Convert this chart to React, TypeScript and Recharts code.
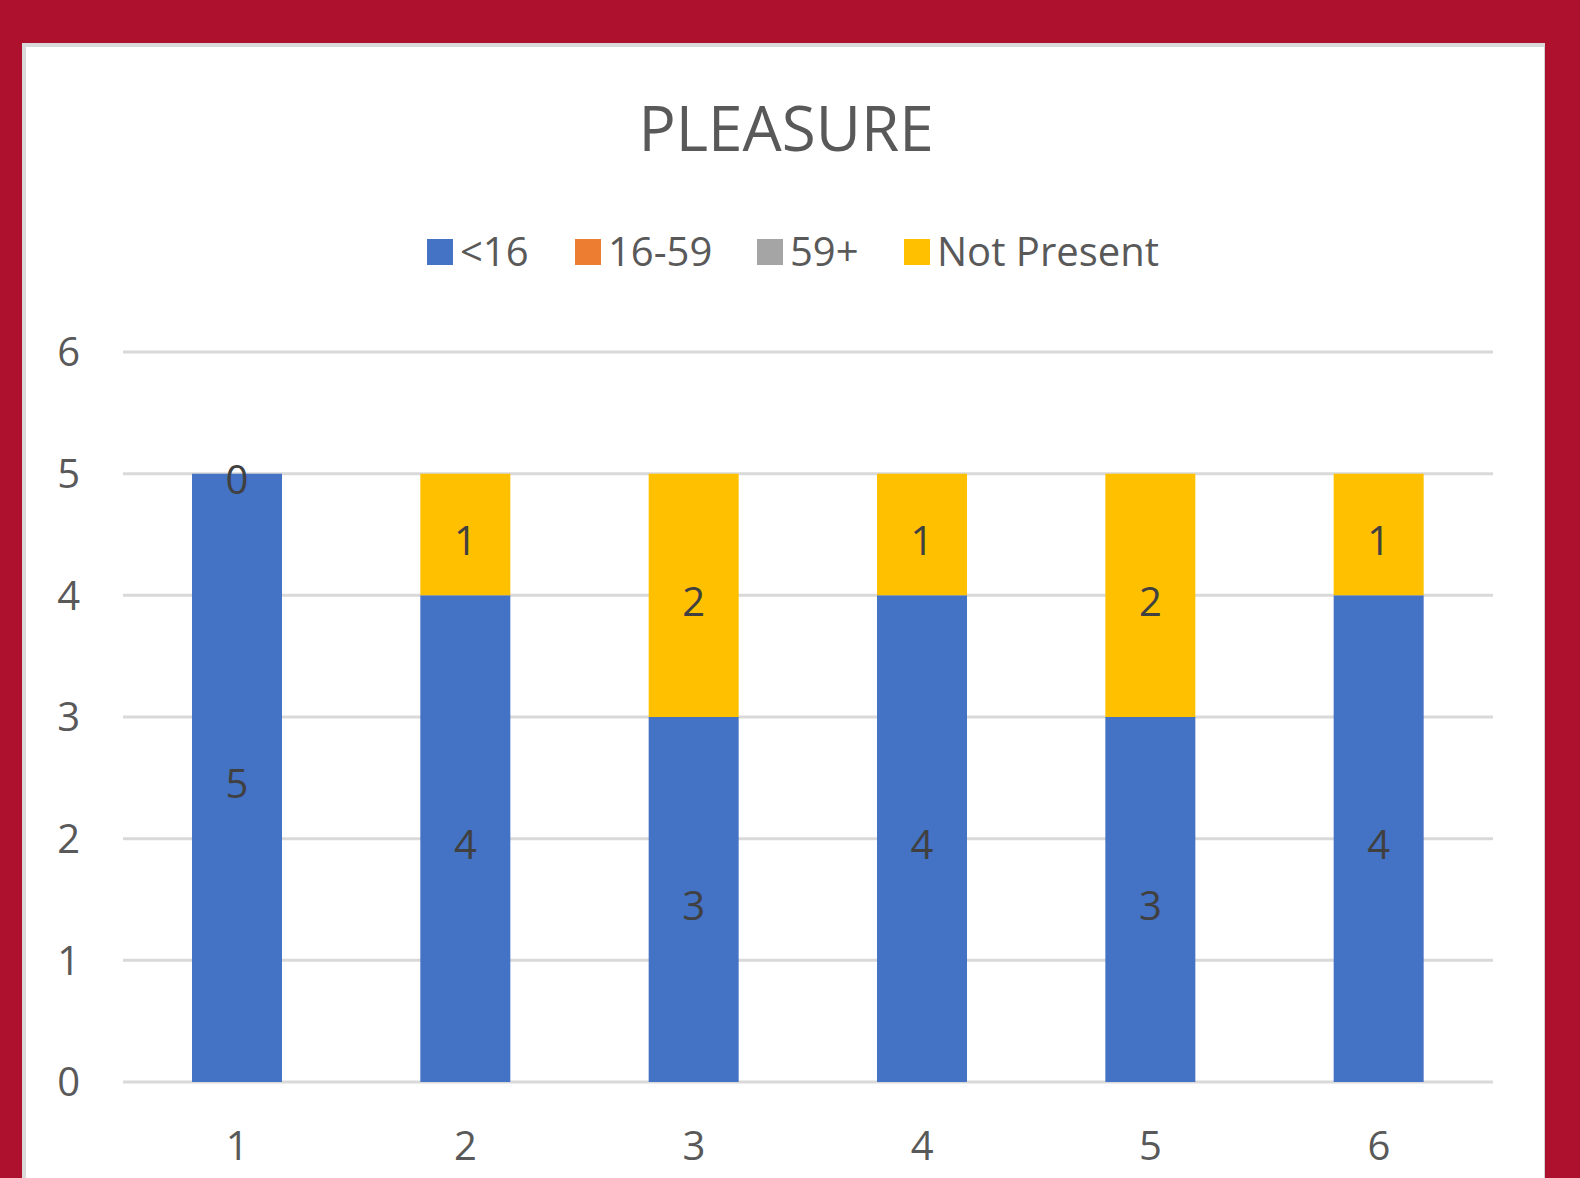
import React from "react";
import { BarChart, Bar, XAxis, YAxis, CartesianGrid, LabelList } from "recharts";

const categories = ["1", "2", "3", "4", "5", "6"];
const under16 = [5, 4, 3, 4, 3, 4];
const age16to59: (number | null)[] = [null, null, null, null, null, null];
const age59plus: (number | null)[] = [null, null, null, null, null, null];
const notPresent = [0, 1, 2, 1, 2, 1];
const yTicks = [0, 1, 2, 3, 4, 5, 6];

const seriesNames = ["<16", "16-59", "59+", "Not Present"];
const seriesColors = ["#4472C4", "#ED7D31", "#A5A5A5", "#FFC000"];

const data = categories.map((c, i) => ({
  cat: c,
  s0: under16[i],
  s1: age16to59[i],
  s2: age59plus[i],
  s3: notPresent[i],
}));

const FONT = "'Open Sans', 'Noto Sans', sans-serif";
const LABEL_FILL = "#404040";
const legendX = [427, 575, 757, 904];

const CenterText = ({ x, y, value }: { x: number; y: number; value: any }) => (
  <text
    x={x}
    y={y}
    textAnchor="middle"
    dominantBaseline="central"
    fill={LABEL_FILL}
    fontSize={40}
    fontFamily={FONT}
  >
    {value}
  </text>
);

// Label for the <16 series; also draws the zero-valued "Not Present" label
// at the top of the stack (recharts skips zero-height bars).
const Under16Label = (props: any) => {
  const { x, y, width, height, index, value } = props;
  const cx = Number(x) + Number(width) / 2;
  return (
    <g>
      <CenterText x={cx} y={Number(y) + Number(height) / 2 + 5} value={value} />
      {notPresent[index] === 0 && (
        <CenterText x={cx} y={Number(y) + 5} value={notPresent[index]} />
      )}
    </g>
  );
};

const NotPresentLabel = (props: any) => {
  const { x, y, width, height, value } = props;
  if (!value) return null;
  return (
    <CenterText
      x={Number(x) + Number(width) / 2}
      y={Number(y) + Number(height) / 2 + 5}
      value={value}
    />
  );
};

export default function App() {
  return (
    <div
      style={{
        position: "absolute",
        left: 0,
        top: 0,
        width: 1580,
        height: 1178,
        background: "#AE112D",
        overflow: "hidden",
        fontFamily: FONT,
      }}
    >
      <div
        style={{
          position: "absolute",
          left: 22,
          top: 43,
          width: 1523,
          height: 1200,
          background: "#FFFFFF",
          boxSizing: "border-box",
          borderLeft: "4px solid #D9DBDB",
          borderTop: "4px solid #D9DBDB",
          borderRight: "1px solid #D0D0D0",
        }}
      />
      <div style={{ position: "absolute", left: 0, top: 0 }}>
        <BarChart
          width={1580}
          height={1178}
          data={data}
          margin={{ top: 352, right: 87, bottom: 0, left: 0 }}
          barSize={90}
        >
          <CartesianGrid vertical={false} stroke="#D9D9D9" strokeWidth={3} />
          <XAxis
            dataKey="cat"
            height={96}
            axisLine={false}
            tickLine={false}
            tickSize={0}
            tickMargin={50}
            tick={{ fill: "#595959", fontSize: 40, fontFamily: FONT }}
          />
          <YAxis
            width={123}
            domain={[0, 6]}
            ticks={yTicks}
            axisLine={false}
            tickLine={false}
            tickSize={0}
            tickMargin={43}
            tick={{ fill: "#595959", fontSize: 40, fontFamily: FONT }}
          />
          {["s0", "s1", "s2", "s3"].map((k, i) => (
            <Bar
              key={k}
              dataKey={k}
              name={seriesNames[i]}
              stackId="a"
              fill={seriesColors[i]}
              isAnimationActive={false}
            >
              {i === 0 && <LabelList dataKey={k} content={Under16Label} />}
              {i === 3 && <LabelList dataKey={k} content={NotPresentLabel} />}
            </Bar>
          ))}
        </BarChart>
      </div>
      <svg
        width={1580}
        height={1178}
        style={{ position: "absolute", left: 0, top: 0, pointerEvents: "none" }}
      >
        <text
          x={786}
          y={151}
          textAnchor="middle"
          fontSize={62}
          fill="#595959"
          fontFamily={FONT}
        >
          PLEASURE
        </text>
        {seriesNames.map((n, i) => (
          <g key={n}>
            <rect x={legendX[i]} y={239} width={26} height={26} fill={seriesColors[i]} />
            <text
              x={legendX[i] + 33}
              y={266}
              fontSize={40}
              fill="#595959"
              fontFamily={FONT}
            >
              {n}
            </text>
          </g>
        ))}
      </svg>
    </div>
  );
}
